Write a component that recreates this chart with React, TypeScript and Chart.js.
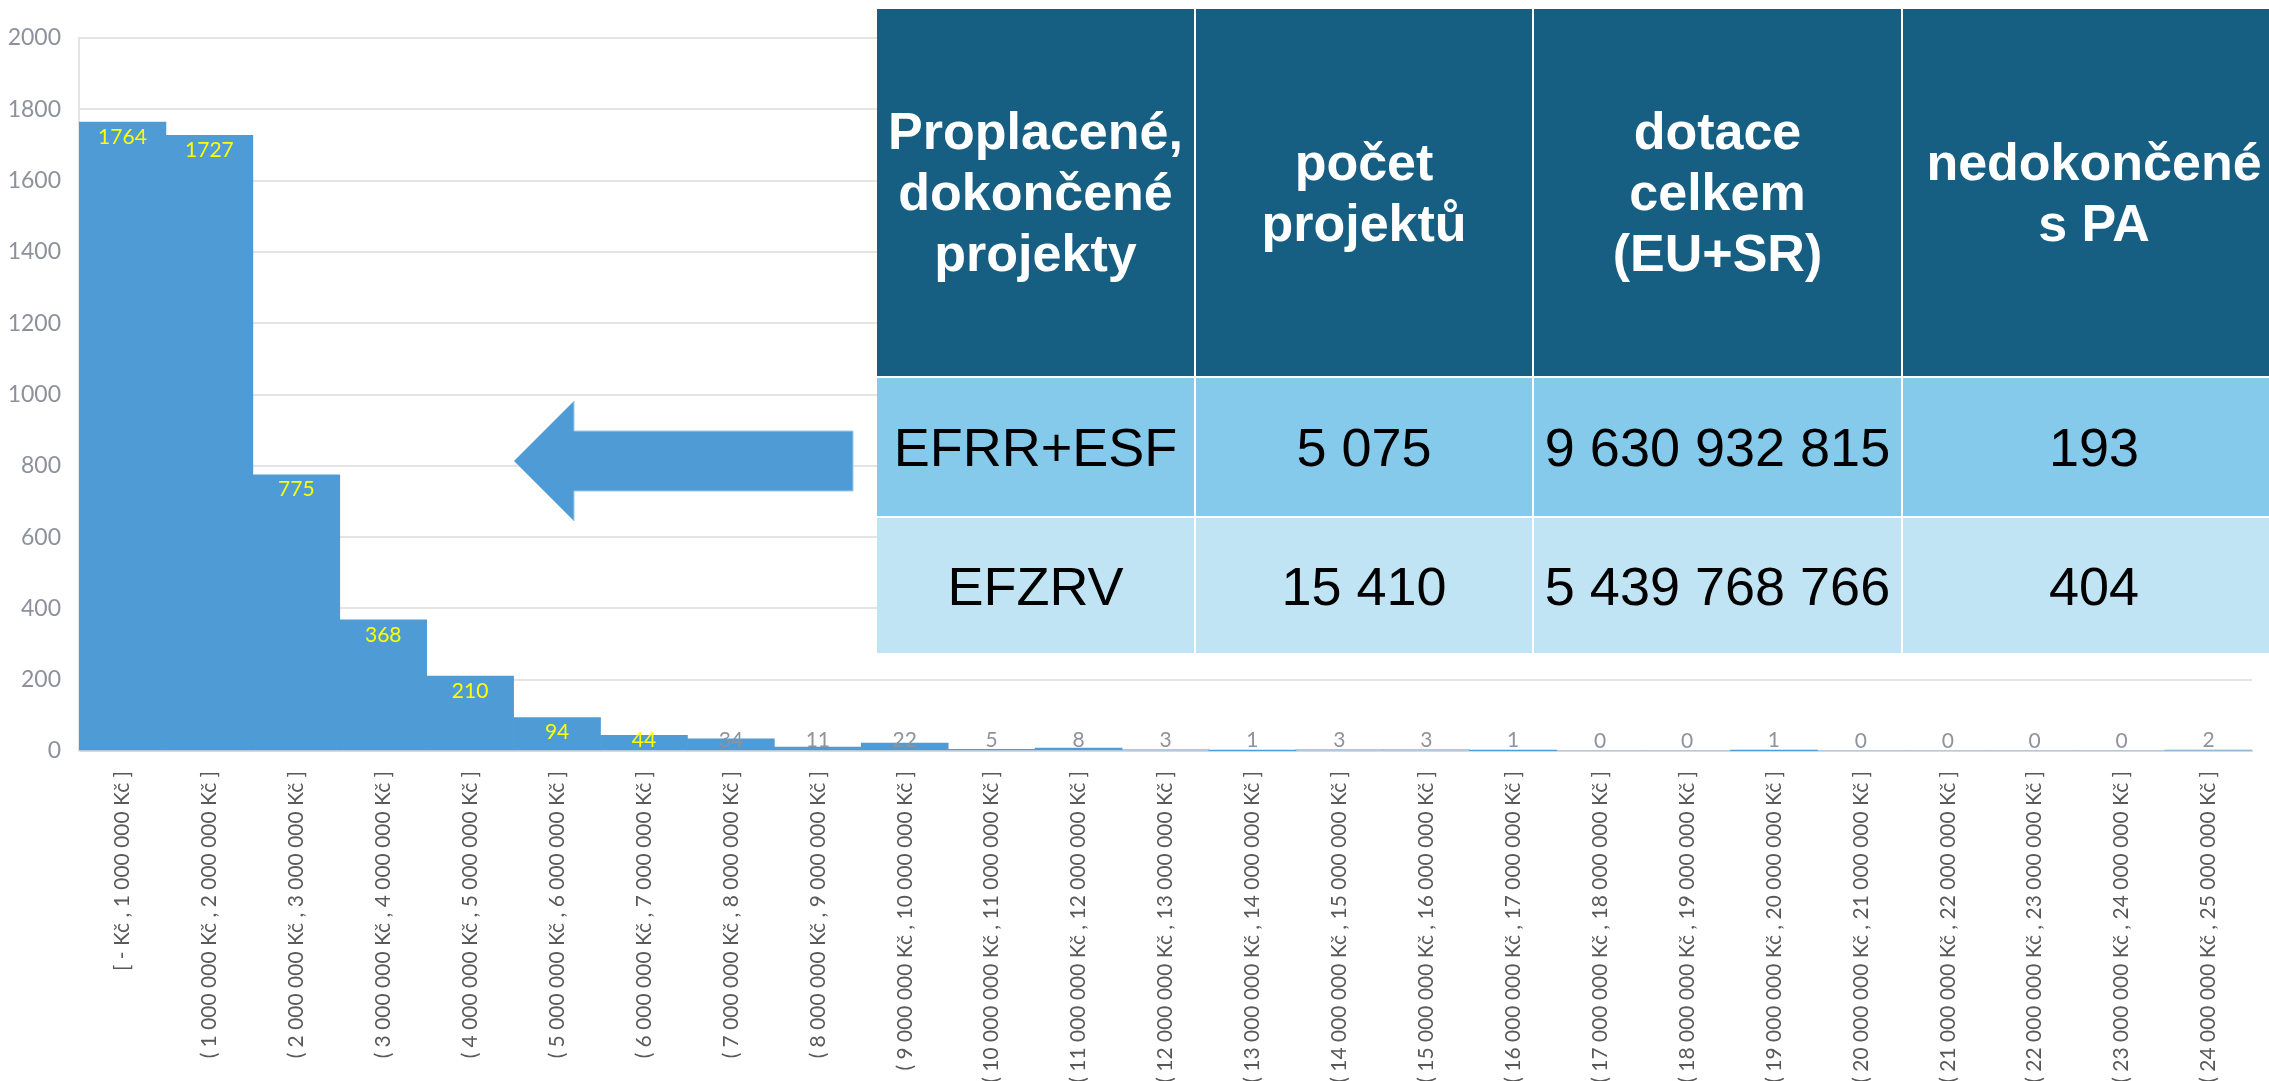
import React, { useEffect, useRef } from 'react';
import { Chart, registerables } from 'chart.js';

Chart.register(...registerables);

// ---------- DATA ----------
const categories: string[] = [
  '[ - Kč , 1 000 000 Kč ]',
  '( 1 000 000 Kč , 2 000 000 Kč ]',
  '( 2 000 000 Kč , 3 000 000 Kč ]',
  '( 3 000 000 Kč , 4 000 000 Kč ]',
  '( 4 000 000 Kč , 5 000 000 Kč ]',
  '( 5 000 000 Kč , 6 000 000 Kč ]',
  '( 6 000 000 Kč , 7 000 000 Kč ]',
  '( 7 000 000 Kč , 8 000 000 Kč ]',
  '( 8 000 000 Kč , 9 000 000 Kč ]',
  '( 9 000 000 Kč , 10 000 000 Kč ]',
  '( 10 000 000 Kč , 11 000 000 Kč ]',
  '( 11 000 000 Kč , 12 000 000 Kč ]',
  '( 12 000 000 Kč , 13 000 000 Kč ]',
  '( 13 000 000 Kč , 14 000 000 Kč ]',
  '( 14 000 000 Kč , 15 000 000 Kč ]',
  '( 15 000 000 Kč , 16 000 000 Kč ]',
  '( 16 000 000 Kč , 17 000 000 Kč ]',
  '( 17 000 000 Kč , 18 000 000 Kč ]',
  '( 18 000 000 Kč , 19 000 000 Kč ]',
  '( 19 000 000 Kč , 20 000 000 Kč ]',
  '( 20 000 000 Kč , 21 000 000 Kč ]',
  '( 21 000 000 Kč , 22 000 000 Kč ]',
  '( 22 000 000 Kč , 23 000 000 Kč ]',
  '( 23 000 000 Kč , 24 000 000 Kč ]',
  '( 24 000 000 Kč , 25 000 000 Kč ]',
];

const projectCounts: number[] = [
  1764, 1727, 775, 368, 210, 94, 44, 34, 11, 22, 5, 8, 3, 1, 3, 3, 1, 0, 0, 1, 0, 0, 0, 0, 2,
];

// first N value labels are drawn in yellow
const yellowLabelCount = 7;

const yAxisMin = 0;
const yAxisMax = 2000;
const yAxisStep = 200;

const tableHeader: string[] = [
  'Proplacené,\ndokončené\nprojekty',
  'počet\nprojektů',
  'dotace\ncelkem\n(EU+SR)',
  'nedokončené\ns PA',
];
const tableRowEFRR: string[] = ['EFRR+ESF', '5 075', '9 630 932 815', '193'];
const tableRowEFZRV: string[] = ['EFZRV', '15 410', '5 439 768 766', '404'];

// ---------- STYLE ----------
const BAR_COLOR = '#4F9BD6';
const GRID_COLOR = '#E4E4E4';
const AXIS_TEXT = '#8C919B';
const XLABEL_TEXT = '#595959';
const LABEL_FONT = 'Lato, "Open Sans", sans-serif';

const valueLabelPlugin = {
  id: 'valueLabels',
  afterDatasetsDraw(chart: any) {
    const ctx = chart.ctx;
    const meta = chart.getDatasetMeta(0);
    const values = chart.data.datasets[0].data as number[];
    ctx.save();
    ctx.font = '21px ' + LABEL_FONT;
    ctx.textAlign = 'center';
    ctx.textBaseline = 'middle';
    meta.data.forEach((el: any, i: number) => {
      const p = el.getProps(['x', 'y', 'base'], true);
      const ly = Math.min(p.y + 15, p.base - 10);
      ctx.fillStyle = i < yellowLabelCount ? '#FFFF00' : '#8E939C';
      ctx.fillText(String(values[i]), p.x, ly);
    });
    ctx.restore();
  },
};

const colX = [877, 1195, 1533, 1902, 2286];
const rowY = [9, 377, 517, 654];
const rowBg = ['#175F82', '#85CAEB', '#C1E4F4'];

function DataTable() {
  const rows = [tableHeader, tableRowEFRR, tableRowEFZRV];
  const cells: React.ReactNode[] = [];
  rows.forEach((row, r) => {
    row.forEach((txt, c) => {
      const left = colX[c];
      const top = rowY[r];
      const w = colX[c + 1] - colX[c];
      const h = rowY[r + 1] - rowY[r];
      cells.push(
        <div
          key={r + '-' + c}
          style={{
            position: 'absolute',
            left: left + (c === 0 ? 0 : 1),
            top: top + (r === 0 ? 0 : 1),
            width: w - (c === 0 ? 1 : 2),
            height: h - (r === 0 ? 1 : 2),
            background: rowBg[r],
            display: 'flex',
            alignItems: 'center',
            justifyContent: 'center',
            textAlign: 'center',
            whiteSpace: 'pre',
            fontFamily: '"Liberation Sans", Arial, sans-serif',
            fontWeight: r === 0 ? 700 : 400,
            fontSize: r === 0 ? 52 : 54,
            lineHeight: r === 0 ? '61px' : '62px',
            color: r === 0 ? '#FFFFFF' : '#000000',
            overflow: 'visible',
          }}
        >
          {txt}
        </div>
      );
    });
  });
  return (
    <div
      style={{
        position: 'absolute',
        left: 0,
        top: 0,
        width: 2269,
        height: 1081,
        pointerEvents: 'none',
      }}
    >
      <div
        style={{
          position: 'absolute',
          left: colX[0],
          top: rowY[0],
          width: colX[4] - colX[0],
          height: rowY[3] - rowY[0],
          background: '#FFFFFF',
        }}
      />
      {cells}
    </div>
  );
}

function Arrow() {
  return (
    <svg
      width={2269}
      height={1081}
      style={{ position: 'absolute', left: 0, top: 0, pointerEvents: 'none' }}
    >
      <polygon
        points="514,461 574,401 574,431 853,431 853,491 574,491 574,521"
        fill="#4F9BD6"
        stroke="#9CCBEE"
        strokeWidth={1}
      />
    </svg>
  );
}

export default function App() {
  const canvasRef = useRef<HTMLCanvasElement | null>(null);

  useEffect(() => {
    if (!canvasRef.current) return;
    const chart = new Chart(canvasRef.current, {
      type: 'bar',
      data: {
        labels: categories,
        datasets: [
          {
            data: projectCounts,
            backgroundColor: BAR_COLOR,
            borderWidth: 0,
            barPercentage: 1,
            categoryPercentage: 1,
          },
        ],
      },
      options: {
        animation: false,
        responsive: true,
        maintainAspectRatio: false,
        layout: { padding: { top: 38, right: 17, left: 0, bottom: 0 } },
        plugins: {
          legend: { display: false },
          tooltip: { enabled: false },
          title: { display: false },
        },
        scales: {
          x: {
            grid: { display: false, drawTicks: false },
            border: { display: true, color: '#D9D9D9', width: 2 },
            ticks: {
              autoSkip: false,
              maxRotation: 90,
              minRotation: 90,
              padding: 20,
              color: XLABEL_TEXT,
              font: { family: LABEL_FONT, size: 21 },
            },
            afterFit: (scale: any) => {
              scale.height = 330;
            },
          },
          y: {
            min: yAxisMin,
            max: yAxisMax,
            grid: { color: GRID_COLOR, lineWidth: 2, drawTicks: false },
            border: { display: true, color: GRID_COLOR, width: 2 },
            ticks: {
              stepSize: yAxisStep,
              padding: 18,
              color: AXIS_TEXT,
              font: { family: LABEL_FONT, size: 23 },
              callback: (v: any) => String(v),
            },
            afterFit: (scale: any) => {
              scale.width = 79;
            },
          },
        },
      },
      plugins: [valueLabelPlugin],
    });
    return () => chart.destroy();
  }, []);

  return (
    <div
      style={{
        position: 'fixed',
        left: 0,
        top: 0,
        width: 2269,
        height: 1081,
        background: '#FFFFFF',
        overflow: 'hidden',
      }}
    >
      <canvas ref={canvasRef} />
      <Arrow />
      <DataTable />
    </div>
  );
}
